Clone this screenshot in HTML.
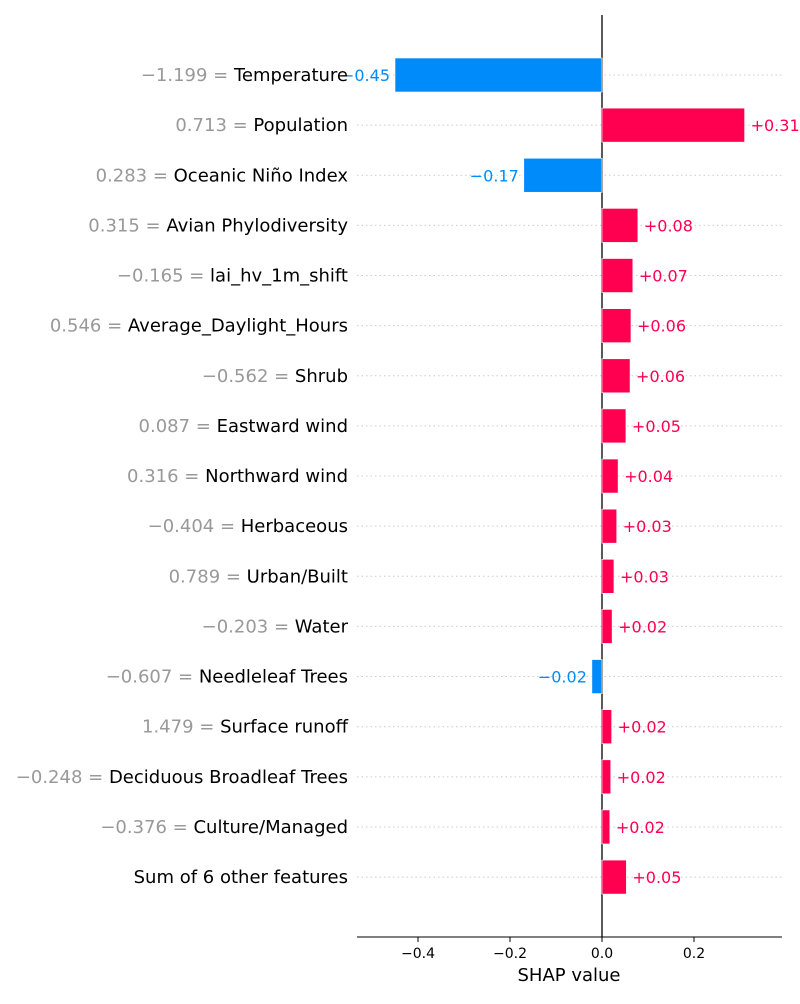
<!DOCTYPE html>
<html><head><meta charset="utf-8"><style>
body{margin:0;background:#fff;font-family:"DejaVu Sans","Liberation Sans",sans-serif}
</style></head><body>
<svg id="chart" width="800" height="1000" xmlns="http://www.w3.org/2000/svg"></svg>
<script>
const featureValues=["\u22121.199","0.713","0.283","0.315","\u22120.165","0.546","\u22120.562","0.087","0.316","\u22120.404","0.789","\u22120.203","\u22120.607","1.479","\u22120.248","\u22120.376",""];
const featureNames=["Temperature","Population","Oceanic Niño Index","Avian Phylodiversity","lai_hv_1m_shift","Average_Daylight_Hours","Shrub","Eastward wind","Northward wind","Herbaceous","Urban/Built","Water","Needleleaf Trees","Surface runoff","Deciduous Broadleaf Trees","Culture/Managed","Sum of 6 other features"];
const shapValues=[-0.45,0.31,-0.17,0.078,0.067,0.063,0.061,0.052,0.035,0.032,0.026,0.022,-0.022,0.021,0.019,0.017,0.053];
const tickValues=[-0.4,-0.2,0,0.2];
const tickLabels=["\u22120.4","\u22120.2","0.0","0.2"];

const svg=document.getElementById('chart');
const NS="http://www.w3.org/2000/svg";
const x=v=>602+v*460;
const y=i=>75+i*50.13;
function mk(tag,attrs,text){const e=document.createElementNS(NS,tag);for(const k in attrs)e.setAttribute(k,attrs[k]);if(text!==undefined)e.textContent=text;svg.appendChild(e);return e;}

shapValues.forEach((v,i)=>{
  const g=mk('line',{x1:357,x2:782,y1:y(i),y2:y(i),stroke:'#ccc','stroke-dasharray':'1.5,3','stroke-width':1});
  
  
});
const zl=mk('line',{x1:602,x2:602,y1:15,y2:937,stroke:'#000','stroke-width':1.3});



shapValues.forEach((v,i)=>{
  const pos=v>=0, col=pos?'#ff0051':'#008bfb';
  const x0=Math.min(x(0),x(v)), w=Math.abs(x(v)-x(0));
  const r=mk('rect',{x:x0,y:y(i)-17,width:w,height:34,fill:col,stroke:'#fff','stroke-width':0.6});
  
  
  const s=(pos?'+':'\u2212')+Math.abs(v).toFixed(2);
  const t=mk('text',{x:pos?x(v)+6:x(v)-5,y:y(i)+6,'font-size':16,fill:col,'text-anchor':pos?'start':'end'},s);
  
  
  const l=mk('text',{x:348,y:y(i)+6,'font-size':18,'text-anchor':'end'});
  
  
  if(featureValues[i]){const a=document.createElementNS(NS,'tspan');a.setAttribute('fill','#999');a.textContent=featureValues[i]+' = ';l.appendChild(a);}
  const b=document.createElementNS(NS,'tspan');b.setAttribute('fill','#000');b.textContent=featureNames[i];l.appendChild(b);
});
const ax=mk('line',{x1:357,x2:782,y1:937,y2:937,stroke:'#000','stroke-width':1});


tickValues.forEach((v,i)=>{
  const tk=mk('line',{x1:x(v),x2:x(v),y1:937,y2:942,stroke:'#000'});
  
  
  const tl=mk('text',{x:x(v),y:958,'font-size':14,'text-anchor':'middle',fill:'#000'},tickLabels[i]);
  
  
});
const xt=mk('text',{x:569,y:981,'font-size':18,'text-anchor':'middle',fill:'#000'},'SHAP value');


</script>
</body></html>
